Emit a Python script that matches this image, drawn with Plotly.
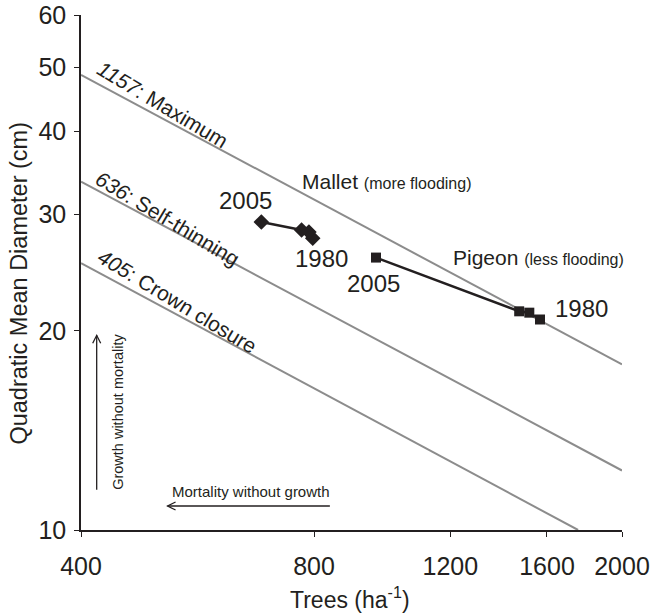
import plotly.graph_objects as go

# ---- data ----
mallet_trees = [797, 788, 771, 684]
mallet_qmd = [27.6, 28.2, 28.4, 29.2]

pigeon_trees = [1567, 1518, 1473, 962]
pigeon_qmd = [20.8, 21.3, 21.4, 25.8]

max_trees = [400, 2000]
max_qmd = [48.7, 17.8]
self_trees = [400, 2000]
self_qmd = [33.6, 12.3]
crown_trees = [400, 1755]
crown_qmd = [25.3, 10.0]

x_ticks = [400, 800, 1200, 1600, 2000]
y_ticks = [10, 20, 30, 40, 50, 60]

FONT = "Liberation Sans, Arial, sans-serif"
GRAY = "#8c8c8c"
INK = "#231f20"

fig = go.Figure()
for xs, ys in [(max_trees, max_qmd), (self_trees, self_qmd), (crown_trees, crown_qmd)]:
    fig.add_trace(go.Scatter(x=xs, y=ys, mode="lines",
                             line=dict(color=GRAY, width=2), hoverinfo="skip"))

fig.add_trace(go.Scatter(x=mallet_trees, y=mallet_qmd, mode="lines+markers",
                         line=dict(color=INK, width=2.5),
                         marker=dict(symbol="diamond", size=12, color=INK)))
fig.add_trace(go.Scatter(x=pigeon_trees, y=pigeon_qmd, mode="lines+markers",
                         line=dict(color=INK, width=2.5),
                         marker=dict(symbol="square", size=10, color=INK)))

ann = []
def txt(text, x, y, size, angle=0, xanchor="center"):
    ann.append(dict(text=text, x=x, y=y, xref="paper", yref="paper",
                    showarrow=False, textangle=angle, xanchor=xanchor,
                    yanchor="middle", font=dict(family=FONT, size=size, color=INK)))

txt("<i>1157</i>: Maximum", 0.151, 0.827, 21, 31)
txt("<i>636</i>: Self-thinning", 0.160, 0.605, 21, 31)
txt("<i>405</i>: Crown closure", 0.179, 0.444, 21, 31)
txt("Mallet <span style='font-size:16px'>(more flooding)</span>", 0.565, 0.677, 21)
txt("Pigeon <span style='font-size:16px'>(less flooding)</span>", 0.845, 0.530, 21)
txt("2005", 0.304, 0.640, 24)
txt("1980", 0.445, 0.528, 24)
txt("2005", 0.541, 0.479, 24)
txt("1980", 0.926, 0.431, 24)
txt("Growth without mortality", 0.068, 0.229, 14.5, -90)
txt("Mortality without growth", 0.314, 0.074, 15)
# axis titles
txt("Quadratic Mean Diameter (cm)", -0.115, 0.48, 23.5, -90)
txt("Trees (ha<sup>-1</sup>)", 0.497, -0.132, 23)

shapes = [
    dict(type="line", xref="paper", yref="paper", x0=0.029, x1=0.029, y0=0.078, y1=0.378,
         line=dict(color=INK, width=1.3)),
    dict(type="path", xref="paper", yref="paper", xsizemode="pixel", ysizemode="pixel",
         xanchor=0.029, yanchor=0.378, path="M -4,-8 L 0,0 L 4,-8",
         line=dict(color=INK, width=1.3)),
    dict(type="line", xref="paper", yref="paper", x0=0.46, x1=0.16, y0=0.0466, y1=0.0466,
         line=dict(color=INK, width=1.3)),
    dict(type="path", xref="paper", yref="paper", xsizemode="pixel", ysizemode="pixel",
         xanchor=0.16, yanchor=0.0466, path="M 8,4 L 0,0 L 8,-4",
         line=dict(color=INK, width=1.3)),
]

fig.update_layout(
    width=653, height=616,
    margin=dict(l=81, r=31, t=15, b=86, autoexpand=False),
    paper_bgcolor="white", plot_bgcolor="white",
    showlegend=False,
    font=dict(family=FONT, color=INK),
    annotations=ann, shapes=shapes,
    xaxis=dict(type="log", range=[2.60206, 3.30103], tickvals=x_ticks,
               ticktext=[str(v) for v in x_ticks], showgrid=False, zeroline=False,
               showline=True, linecolor=INK, linewidth=1.5, ticks="outside",
               ticklen=5, tickcolor=INK, tickfont=dict(size=25, family=FONT),
               ticklabelstandoff=8, automargin=False),
    yaxis=dict(type="log", range=[1, 1.778151], tickvals=y_ticks,
               ticktext=[str(v) for v in y_ticks], showgrid=False, zeroline=False,
               showline=True, linecolor=INK, linewidth=1.5, ticks="outside",
               ticklen=5, tickcolor=INK, tickfont=dict(size=25, family=FONT),
               ticklabelstandoff=3, automargin=False),
)

fig.write_html("out.html", config={"displayModeBar": False},
               post_script="document.body.style.margin='0';document.body.style.overflow='hidden';")
